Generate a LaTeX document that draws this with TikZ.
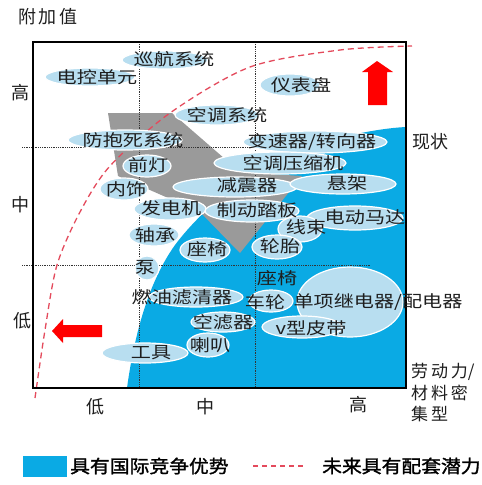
\documentclass[tikz,border=0pt]{standalone}
\usepackage{fontspec}
\newfontfamily\labf[FakeStretch=1.22]{Noto Sans CJK SC}
\newfontfamily\axf{Noto Sans CJK SC}
\newfontfamily\lgf[FakeStretch=1.1,FakeBold=1.5]{Noto Sans CJK SC}
\definecolor{blueA}{HTML}{0AAAE4}
\definecolor{ellC}{HTML}{B8DEF0}
\definecolor{grayA}{HTML}{9A9A9A}
\definecolor{redD}{HTML}{E44A5C}
\definecolor{txtC}{HTML}{1E1E1E}
\tikzset{
  lab/.style={inner sep=0pt, text=txtC, font=\labf\fontsize{16.5}{18}\selectfont},
  axl/.style={inner sep=0pt, text=txtC, font=\axf\fontsize{18}{20}\selectfont},
  lgd/.style={inner sep=0pt, text=black, font=\lgf\fontsize{18}{20}\selectfont, anchor=west},
  ell/.style={fill=ellC, draw=white, line width=1.2pt},
  grid/.style={densely dotted, line width=0.8pt, black!80},
  redarrow/.style={fill=red, draw=none},
  futline/.style={redD, dashed, dash pattern=on 6pt off 4pt, line width=1.3pt}
}
\begin{document}
\begin{tikzpicture}[x=1pt,y=-1pt]
\useasboundingbox (0,0) rectangle (482,485);
\fill[white] (0,0) rectangle (482,485);
% blue region
\fill[blueA] (127,388) .. controls (135,330) and (150,280) .. (175,245)
  .. controls (205,205) and (260,160) .. (320,143)
  .. controls (355,133) and (385,128) .. (406,127) -- (406,388) -- cycle;
% gray arrow
\fill[grayA] (108,113) -- (172,113) -- (240,172) -- (302,176) -- (240,253) -- (200,212) -- (118,176) -- cycle;
% grid
\draw[grid] (22,147) -- (370,147);
\draw[grid] (22,265) -- (370,265);
\draw[grid] (139,42) -- (139,388);
\draw[grid] (255,42) -- (255,388);
% future potential curve
\draw[futline] plot[smooth] coordinates {(35,398) (45,330) (57,265) (80,212) (110,166) (170,113) (250,67) (340,50) (412,46)};
% ellipses
\draw[ell] (165,60) ellipse [x radius=43, y radius=9];
\draw[ell] (90,77) ellipse [x radius=45, y radius=9];
\draw[ell] (290,85) ellipse [x radius=30, y radius=11];
\draw[ell] (217,115) ellipse [x radius=42, y radius=10];
\draw[ell] (125,140) ellipse [x radius=57, y radius=10];
\draw[ell] (315,142) ellipse [x radius=72, y radius=11];
\draw[ell] (280,163) ellipse [x radius=66, y radius=11];
\draw[ell] (147,166) ellipse [x radius=24, y radius=11];
\draw[ell] (124,189) ellipse [x radius=24, y radius=11];
\draw[ell] (235,187) ellipse [x radius=62, y radius=10];
\draw[ell] (343,184) ellipse [x radius=53, y radius=10];
\draw[ell] (170,209) ellipse [x radius=36, y radius=11];
\draw[ell] (252,211) ellipse [x radius=47, y radius=11];
\draw[ell] (355,218) ellipse [x radius=48, y radius=12];
\draw[ell] (300,229) ellipse [x radius=22, y radius=13];
\draw[ell] (154,235) ellipse [x radius=25, y radius=11];
\draw[ell] (277,247) ellipse [x radius=25, y radius=12];
\draw[ell] (205,250) ellipse [x radius=25, y radius=12];
\draw[ell] (147,268) ellipse [x radius=12, y radius=12];
\draw[ell] (350,302) ellipse [x radius=53, y radius=35];
\draw[ell] (271,301) ellipse [x radius=22, y radius=11];
\draw[ell] (196,297) ellipse [x radius=47, y radius=10];
\draw[ell] (223,322) ellipse [x radius=32, y radius=10];
\draw[ell] (302,327) ellipse [x radius=40, y radius=11];
\draw[ell] (208,345) ellipse [x radius=21, y radius=12];
\draw[ell] (145,353) ellipse [x radius=43, y radius=10];
% frame
\draw[line width=1.5pt, black] (33,42) rectangle (406,388);
% red arrows
\fill[redarrow] (377,61) -- (393,72) -- (387,72) -- (387,105) -- (368,105) -- (368,72) -- (362,72) -- cycle;
\fill[redarrow] (52,331) -- (63,319) -- (63,325) -- (102,325) -- (102,337) -- (63,337) -- (63,343) -- cycle;
% labels
\node[lab] (l1) at (174,59) {巡航系统};
\node[lab] (l2) at (97,77) {电控单元};
\node[lab] (l3) at (301,85) {仪表盘};
\node[lab] (l4) at (227,115) {空调系统};
\node[lab] (l5) at (133,140) {防抱死系统};
\node[lab] (l6) at (312,142) {变速器/转向器};
\node[lab] (l7) at (148,165) {前灯};
\node[lab] (l8) at (293,163) {空调压缩机};
\node[lab] (l9) at (347,183) {悬架};
\node[lab] (l10) at (126,189) {内饰};
\node[lab] (l11) at (247,185) {减震器};
\node[lab] (l12) at (171,208) {发电机};
\node[lab] (l13) at (257,210) {制动踏板};
\node[lab] (l14) at (365,217) {电动马达};
\node[lab] (l15) at (306,227) {线束};
\node[lab] (l16) at (155,235) {轴承};
\node[lab] (l17) at (280,246) {轮胎};
\node[lab] (l18) at (207,249) {座椅};
\node[lab] (l19) at (145,268) {泵};
\node[lab] (l20) at (277,278) {座椅};
\node[lab] (l21) at (182,297) {燃油滤清器};
\node[lab] (l22) at (265,302) {车轮};
\node[lab] (l23) at (378,302) {单项继电器/配电器};
\node[lab] (l24) at (223,322) {空滤器};
\node[lab] (l25) at (311,328) {v型皮带};
\node[lab] (l26) at (210,345) {喇叭};
\node[lab] (l27) at (151,353) {工具};
% axis labels
\node[axl] (yt) at (48,17) {附\,加\,值};
\node[axl] (yh) at (21,93) {高};
\node[axl] (ym) at (20,205) {中};
\node[axl] (yl) at (22,321) {低};
\node[axl] (xl) at (95,407) {低};
\node[axl] (xm) at (205,407) {中};
\node[axl] (xh) at (358,405) {高};
\node[axl] (now) at (430,142) {现状};
\node[axl, anchor=west, align=left, font=\axf\fontsize{17}{21.5}\selectfont] (xt) at (411,393) {劳\,动\,力/\\材\,料\,密\\集\,型};
% legend
\fill[blueA] (23,456) rectangle (67,477);
\node[lgd] (lg1) at (70,466) {具有国际竞争优势};
\coordinate (d1) at (253,466);
\coordinate (d2) at (306,466);
\draw[futline, line width=1.2pt, dash pattern=on 5pt off 4pt] (d1) -- (d2);
\node[lgd] (lg2) at (322,466) {未来具有配套潜力};
\end{tikzpicture}
\end{document}
